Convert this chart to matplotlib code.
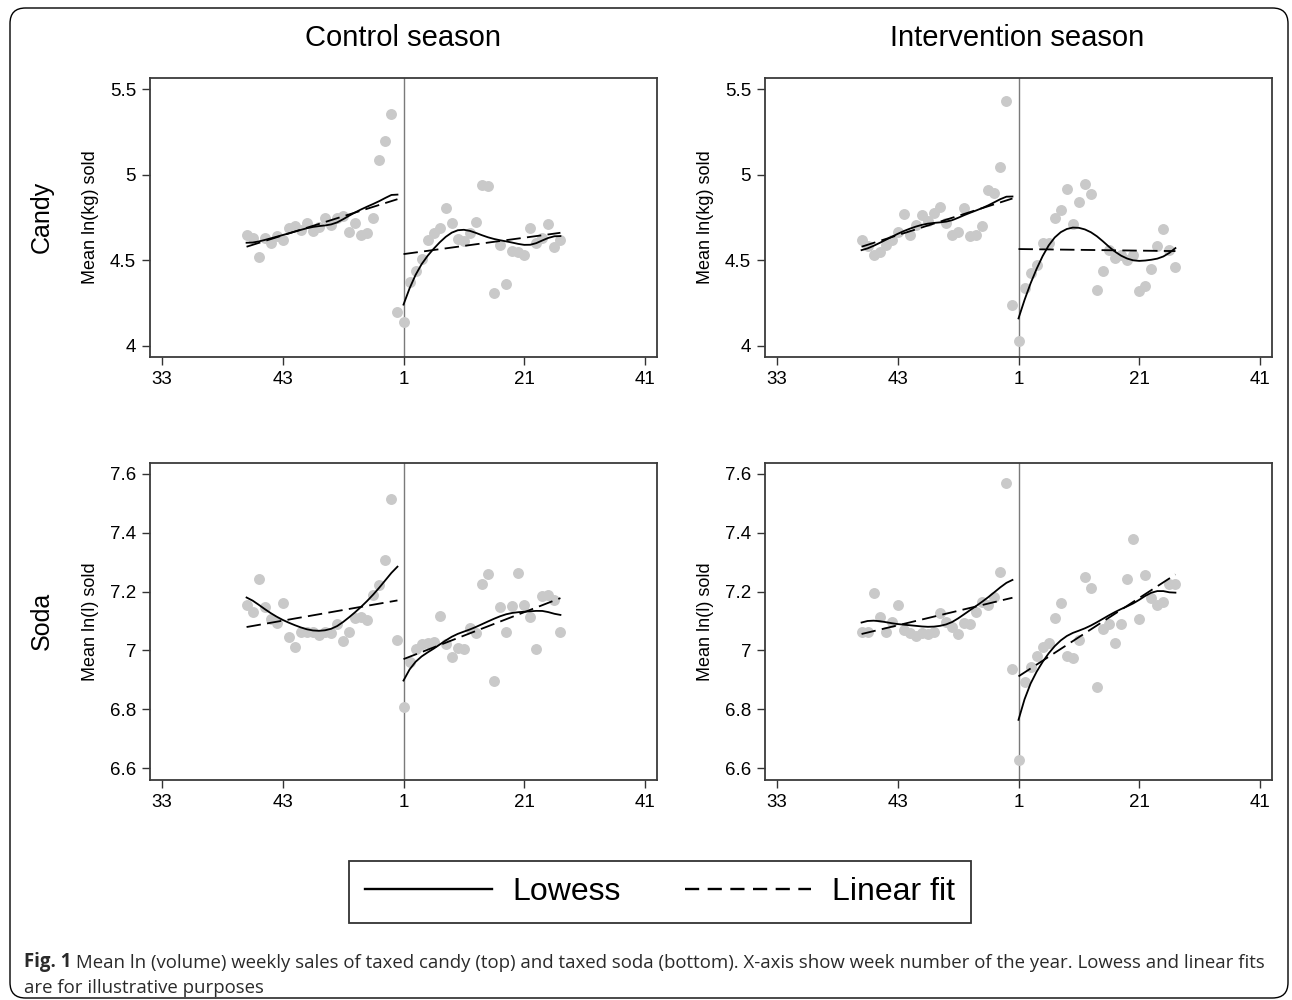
import matplotlib
matplotlib.use("Agg")
import matplotlib.pyplot as plt
from matplotlib.lines import Line2D
from matplotlib.patches import FancyBboxPatch
import numpy as np

plt.rcParams["font.family"] = ["Liberation Sans", "DejaVu Sans"]

# week index relative to week 1 (pre = weeks before new year, post = from week 1)
pre_x = np.arange(-26, 0)
post_x = np.arange(0, 27)

tick_pos = [-40, -20, 0, 20, 40]
tick_labels = ["33", "43", "1", "21", "41"]

candy_ctrl_pre = [4.648, 4.629, 4.517, 4.629, 4.600, 4.639, 4.619, 4.687, 4.700, 4.677,
                  4.720, 4.671, 4.697, 4.745, 4.706, 4.745, 4.758, 4.668, 4.720, 4.645,
                  4.662, 4.745, 5.089, 5.199, 5.357, 4.195]
candy_ctrl_post = [4.140, 4.374, 4.436, 4.509, 4.619, 4.658, 4.687, 4.803, 4.720, 4.623,
                   4.615, 4.662, 4.725, 4.938, 4.932, 4.307, 4.590, 4.359, 4.552, 4.546,
                   4.532, 4.687, 4.600, 4.629, 4.712, 4.577, 4.619]
candy_int_pre = [4.620, 4.581, 4.532, 4.551, 4.590, 4.620, 4.668, 4.771, 4.645, 4.707,
                 4.764, 4.727, 4.779, 4.814, 4.717, 4.649, 4.668, 4.805, 4.639, 4.649,
                 4.703, 4.908, 4.896, 5.048, 5.432, 4.240]
candy_int_post = [4.029, 4.337, 4.425, 4.473, 4.600, 4.600, 4.746, 4.795, 4.916, 4.713,
                  4.838, 4.947, 4.886, 4.327, 4.438, 4.561, 4.512, 4.532, 4.499, 4.532,
                  4.318, 4.347, 4.450, 4.581, 4.682, 4.561, 4.460]
soda_ctrl_pre = [7.155, 7.130, 7.243, 7.149, 7.107, 7.095, 7.161, 7.045, 7.011, 7.064,
                 7.064, 7.064, 7.053, 7.064, 7.061, 7.089, 7.033, 7.064, 7.110, 7.115,
                 7.104, 7.189, 7.221, 7.308, 7.514, 7.034]
soda_ctrl_post = [6.809, 6.962, 7.004, 7.022, 7.025, 7.030, 7.117, 7.022, 6.977, 7.008,
                  7.004, 7.076, 7.059, 7.226, 7.259, 6.898, 7.149, 7.062, 7.151, 7.263,
                  7.155, 7.113, 7.006, 7.185, 7.189, 7.172, 7.063]
soda_int_pre = [7.062, 7.064, 7.197, 7.113, 7.062, 7.098, 7.153, 7.068, 7.060, 7.050,
                7.059, 7.056, 7.064, 7.129, 7.098, 7.079, 7.056, 7.095, 7.090, 7.132,
                7.166, 7.155, 7.183, 7.265, 7.568, 6.936]
soda_int_post = [6.628, 6.892, 6.945, 6.982, 7.013, 7.025, 7.110, 7.161, 6.982, 6.974,
                 7.036, 7.251, 7.214, 6.877, 7.072, 7.090, 7.025, 7.090, 7.242, 7.378,
                 7.106, 7.257, 7.178, 7.155, 7.164, 7.226, 7.226]

candy_ticks = [4, 4.5, 5, 5.5]
candy_tick_labels = ["4", "4.5", "5", "5.5"]
soda_ticks = [6.6, 6.8, 7.0, 7.2, 7.4, 7.6]
soda_tick_labels = ["6.6", "6.8", "7", "7.2", "7.4", "7.6"]


def lowess(x, y, bw=0.8):
    # running-line smoother with tricube weights (Stata style)
    x = np.asarray(x, float)
    y = np.asarray(y, float)
    n = len(x)
    k = int(np.floor((n * bw - 0.5) / 2))
    out = np.empty(n)
    for i in range(n):
        lo = max(0, i - k)
        hi = min(n - 1, i + k)
        xs = x[lo:hi + 1]
        ys = y[lo:hi + 1]
        d = 1.0001 * max(x[hi] - x[i], x[i] - x[lo])
        w = (1 - (np.abs(xs - x[i]) / d) ** 3) ** 3
        xm = np.sum(w * xs) / np.sum(w)
        ym = np.sum(w * ys) / np.sum(w)
        b = np.sum(w * (xs - xm) * (ys - ym)) / np.sum(w * (xs - xm) ** 2)
        out[i] = ym + b * (x[i] - xm)
    return out


W, H = 1292, 1000
fig = plt.figure(figsize=(W / 100, H / 100), dpi=100)

panels = [
    (150, 77.7, 357.3, candy_ctrl_pre, candy_ctrl_post, (3.932, 5.568), candy_ticks, candy_tick_labels, "Mean ln(kg) sold"),
    (765, 77.7, 357.3, candy_int_pre, candy_int_post, (3.932, 5.568), candy_ticks, candy_tick_labels, "Mean ln(kg) sold"),
    (150, 462.7, 780, soda_ctrl_pre, soda_ctrl_post, (6.560, 7.638), soda_ticks, soda_tick_labels, "Mean ln(l) sold"),
    (765, 462.7, 780, soda_int_pre, soda_int_post, (6.560, 7.638), soda_ticks, soda_tick_labels, "Mean ln(l) sold"),
]

axes = []
for left, top, bottom, pre, post, ylim, yt, ytl, ylab in panels:
    ax = fig.add_axes([left / W, 1 - bottom / H, 507 / W, (bottom - top) / H])
    axes.append(ax)
    ax.axvline(0, color="#7a7a7a", lw=1.0, zorder=1)
    ax.scatter(pre_x, pre, s=62, color="#c9c9c9", linewidths=0, zorder=2)
    ax.scatter(post_x, post, s=62, color="#c9c9c9", linewidths=0, zorder=2)
    for xx, yy in ((pre_x, pre), (post_x, post)):
        ax.plot(xx, lowess(xx, yy), color="black", lw=1.3, zorder=3)
        b, a = np.polyfit(xx, yy, 1)
        ax.plot(xx, a + b * xx, color="black", lw=1.3, ls=(0, (8, 3.5)), zorder=3)
    ax.set_xlim(-42, 42)
    ax.set_ylim(*ylim)
    ax.set_xticks(tick_pos)
    ax.set_xticklabels(tick_labels)
    ax.set_yticks(yt)
    ax.set_yticklabels(ytl)
    ax.tick_params(direction="out", length=6, width=1, labelsize=13.5, pad=4, color="#333333")
    ax.set_ylabel(ylab, fontsize=13, labelpad=8)
    for sp in ax.spines.values():
        sp.set_color("#3a3a3a")
        sp.set_linewidth(1.3)

fig.text(403 / W, 1 - 38 / H, "Control season", fontsize=21, ha="center", va="center")
fig.text(1017 / W, 1 - 38 / H, "Intervention season", fontsize=21, ha="center", va="center")
fig.text(42 / W, 1 - 217 / H, "Candy", fontsize=18, rotation=90, ha="center", va="center")
fig.text(42 / W, 1 - 621 / H, "Soda", fontsize=18, rotation=90, ha="center", va="center")

handles = [Line2D([], [], color="black", lw=1.7),
           Line2D([], [], color="black", lw=1.7, ls=(0, (6, 3.6)))]
fig.legend(handles, ["Lowess", "Linear fit"], loc="center", bbox_to_anchor=(660 / W, 1 - 892 / H),
           ncol=2, fontsize=23, frameon=True, fancybox=False, edgecolor="black",
           handlelength=3.95, handletextpad=0.65, columnspacing=2.0, borderpad=0.5)
leg = fig.legends[0]
leg.get_frame().set_linewidth(1.3)

border = FancyBboxPatch((10 / W, 1 - 998 / H), 1278 / W, 990 / H, transform=fig.transFigure,
                        boxstyle="round,pad=0,rounding_size=0.012", mutation_aspect=W / H,
                        fill=False, edgecolor="black", lw=1.0)
fig.add_artist(border)

cap = "Open Sans"
cap_size = 13.4
t1 = fig.text(24 / W, 1 - 972 / H, "Fig. 1", fontsize=cap_size, fontweight="bold", family=cap,
              ha="left", va="bottom", color="#2a2a2a")
axes[0].annotate(" Mean ln (volume) weekly sales of taxed candy (top) and taxed soda (bottom). "
                 "X-axis show week number of the year. Lowess and linear fits",
                 xy=(1, 0), xycoords=t1, ha="left", va="bottom", fontsize=cap_size, family=cap,
                 color="#2a2a2a", annotation_clip=False)
fig.text(24 / W, 1 - 993 / H, "are for illustrative purposes", fontsize=cap_size, family=cap,
         ha="left", va="baseline", color="#2a2a2a")

fig.savefig("out.png", dpi=100)
